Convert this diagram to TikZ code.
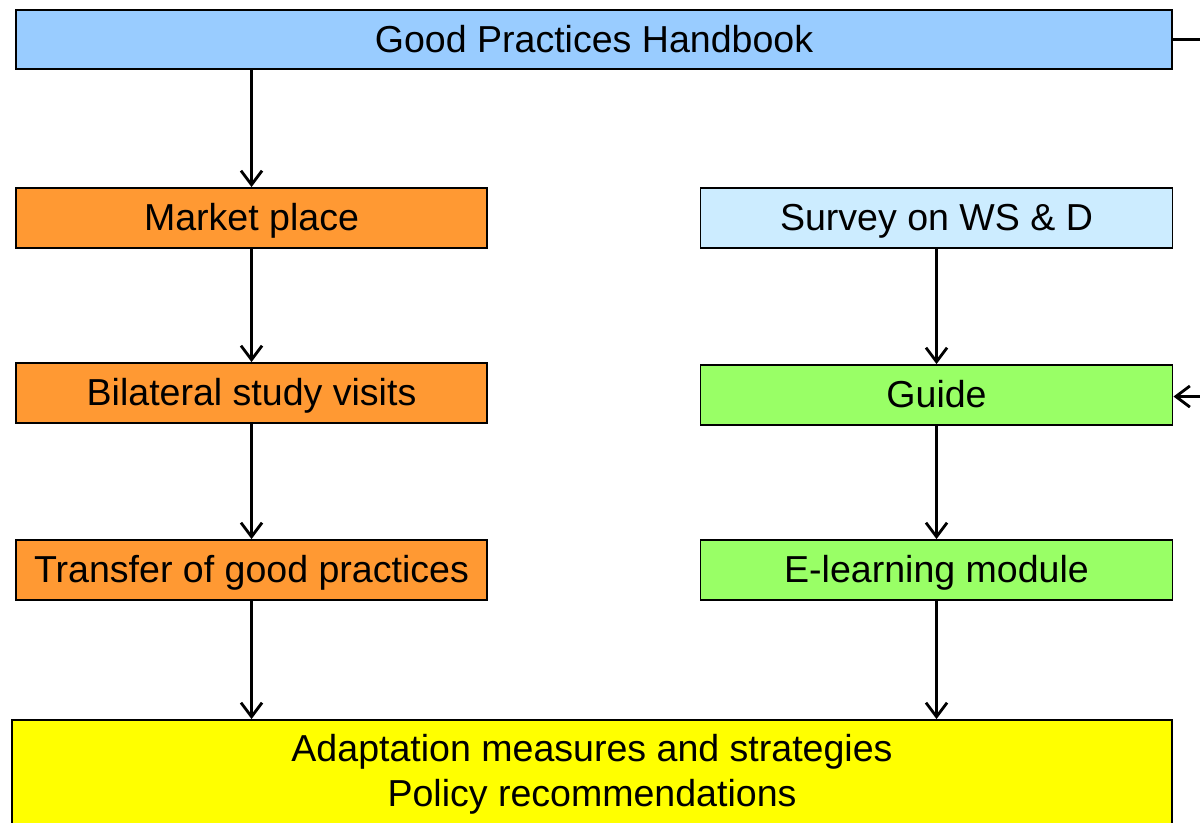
\documentclass[tikz,border=0pt]{standalone}
\usepackage{fontspec}
\setmainfont{Liberation Sans}
\usetikzlibrary{arrows.meta}
\definecolor{hbblue}{RGB}{153,204,255}
\definecolor{paleblue}{RGB}{204,236,255}
\definecolor{boxorange}{RGB}{255,153,51}
\definecolor{boxgreen}{RGB}{153,255,102}
\definecolor{boxyellow}{RGB}{255,255,0}
\begin{document}
\begin{tikzpicture}[x=0.025cm,y=-0.025cm,
  box/.style={draw, line width=1.3pt, inner sep=0pt, minimum height=1.5cm,
    font=\fontsize{26.7}{32}\selectfont, align=center, text height=20pt, text depth=2pt},
  leftbox/.style={box, fill=boxorange, minimum width=11.775cm},
  rightbox/.style={box, minimum width=11.8cm},
  flow/.style={line width=2pt, -{Straight Barb[length=10pt,width=15pt,line width=2pt]}}]
\clip (0,0) rectangle (1200,822);

% top and bottom bars
\node[box, fill=hbblue, minimum width=28.9cm, minimum height=1.475cm] (hb) at (594,39.5) {Good Practices Handbook};
\node[box, fill=boxyellow, minimum width=29cm, minimum height=2.7cm, text height=, text depth=] (adp) at (592,774) {Adaptation measures and strategies\\Policy recommendations};

% left column
\node[leftbox] (mp) at (251.5,218) {Market place};
\node[leftbox] (bsv) at (251.5,393) {Bilateral study visits};
\node[leftbox] (tgp) at (251.5,570) {Transfer of good practices};

% right column
\node[rightbox, fill=paleblue] (sws) at (936.5,218) {Survey on WS \& D};
\node[rightbox, fill=boxgreen] (gd) at (936.5,395) {Guide};
\node[rightbox, fill=boxgreen] (elm) at (936.5,570) {E-learning module};

\coordinate (hbout) at (1215,39.5);
\coordinate (gdin) at (1215,396.5);

\draw[flow] (mp.north |- hb.south) -- (mp.north);
\draw[flow] (mp) -- (bsv);
\draw[flow] (bsv) -- (tgp);
\draw[flow] (tgp.south) -- (tgp.south |- adp.north);
\draw[flow] (sws) -- (gd);
\draw[flow] (gd) -- (elm);
\draw[flow] (elm.south) -- (elm.south |- adp.north);
\draw[line width=2pt] (hb.east) -- (hbout);
\draw[flow] (gdin) -- (gd.east |- gdin);
\end{tikzpicture}
\end{document}
